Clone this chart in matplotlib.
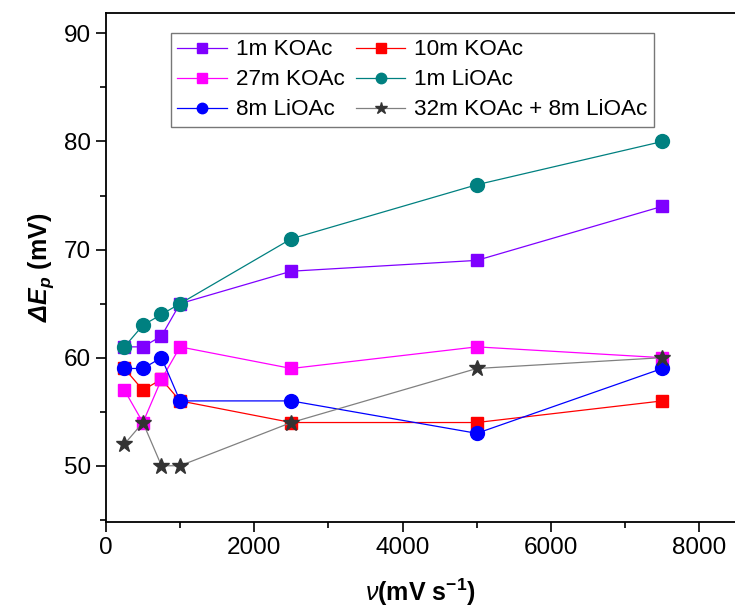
import matplotlib
matplotlib.use("Agg")
import matplotlib.pyplot as plt
from matplotlib.ticker import MultipleLocator

plt.rcParams['font.family'] = ['Liberation Sans', 'DejaVu Sans']
plt.rcParams['mathtext.fontset'] = 'custom'
plt.rcParams['mathtext.rm'] = 'Liberation Sans'
plt.rcParams['mathtext.it'] = 'Liberation Sans:italic'
plt.rcParams['mathtext.bf'] = 'Liberation Sans:bold'
plt.rcParams['mathtext.bfit'] = 'Liberation Sans:bold:italic'

# scan rates (mV/s)
scan_rate = [250, 500, 750, 1000, 2500, 5000, 7500]

# peak separation (mV)
koac_1m = [61, 61, 62, 65, 68, 69, 74]
koac_10m = [59, 57, 58, 56, 54, 54, 56]
koac_27m = [57, 54, 58, 61, 59, 61, 60]
lioac_1m = [61, 63, 64, 65, 71, 76, 80]
lioac_8m = [59, 59, 60, 56, 56, 53, 59]
wis_mix = [52, 54, 50, 50, 54, 59, 60]

labels = ['1m KOAc', '10m KOAc', '27m KOAc', '1m LiOAc', '8m LiOAc',
          '32m KOAc + 8m LiOAc']
series = [koac_1m, koac_10m, koac_27m, lioac_1m, lioac_8m, wis_mix]
colors = ['#7F00FF', '#FF0000', '#FF00FF', '#008080', '#0000FF', '#333333']
line_colors = ['#7F00FF', '#FF0000', '#FF00FF', '#008080', '#0000FF', '#808080']
markers = ['s', 's', 's', 'o', 'o', '*']
msizes = [9, 9, 9, 10, 10, 12]

fig = plt.figure(figsize=(7.35, 6.13), dpi=100)
ax = fig.add_axes([0.144, 0.1485, 0.856, 0.8305])

handles = []
for y, lab, c, lc, m, ms in zip(series, labels, colors, line_colors, markers, msizes):
    h, = ax.plot(scan_rate, y, color=lc, lw=0.9, marker=m, markersize=ms,
                 markerfacecolor=c, markeredgecolor=c, label=lab)
    handles.append(h)

ax.set_xlim(0, 8480)
ax.set_ylim(44.8, 91.9)
ax.xaxis.set_major_locator(MultipleLocator(2000))
ax.xaxis.set_minor_locator(MultipleLocator(1000))
ax.yaxis.set_major_locator(MultipleLocator(10))
ax.yaxis.set_minor_locator(MultipleLocator(5))
ax.tick_params(which='major', direction='out', length=7, width=1.2, labelsize=17.5)
ax.tick_params(which='minor', direction='out', length=4, width=1.2)
ax.spines['right'].set_visible(False)
for s in ['left', 'bottom', 'top']:
    ax.spines[s].set_linewidth(1.3)

ax.set_xlabel(r'$\mathit{\nu}\mathbf{(mV\ s^{-1})}$', fontsize=18, labelpad=13)
ax.set_ylabel(r'$\mathbfit{\Delta E_p}\ \mathbf{(mV)}$', fontsize=18, labelpad=6)

# legend is filled row by row in the reference
order = [0, 2, 4, 1, 3, 5]
leg = ax.legend([handles[i] for i in order], [labels[i] for i in order],
                ncol=2, loc='upper left', bbox_to_anchor=(0.103, 0.961),
                borderaxespad=0, fontsize=16.2, frameon=True, fancybox=False,
                edgecolor='#555555', handlelength=2.2, handletextpad=0.4,
                columnspacing=0.5, labelspacing=0.4, borderpad=0.3,
                markerscale=0.75)
leg.get_frame().set_linewidth(1.0)

fig.savefig('out.png', dpi=100)
